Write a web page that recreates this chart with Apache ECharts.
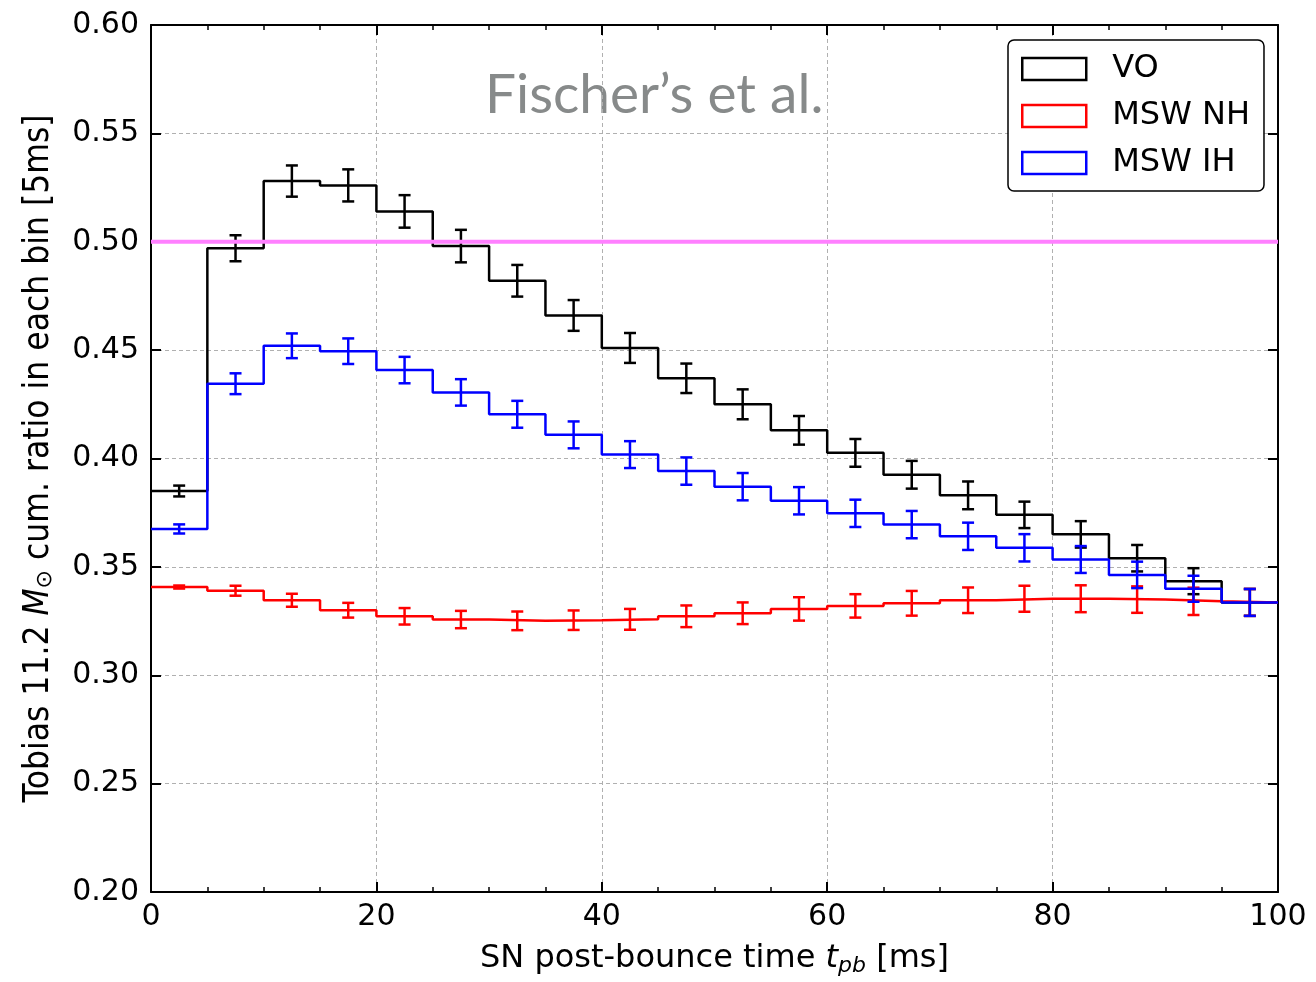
<!DOCTYPE html>
<html>
<head>
<meta charset="utf-8">
<script src="https://cdn.jsdelivr.net/npm/echarts@6/dist/echarts.min.js"></script>
<style>
html,body{margin:0;padding:0;background:#fff;}
#chart{width:1316px;height:982px;}
</style>
</head>
<body>
<div id="chart"></div>
<script>
// Bin edges (ms) and bin centres
const binEdges = [0,5,10,15,20,25,30,35,40,45,50,55,60,65,70,75,80,85,90,95,100];
const binCenters = [2.5,7.5,12.5,17.5,22.5,27.5,32.5,37.5,42.5,47.5,52.5,57.5,62.5,67.5,72.5,77.5,82.5,87.5,92.5,97.5];

// VO (black)
const voValues = [0.385,0.497,0.528,0.526,0.514,0.498,0.482,0.466,0.451,0.437,0.425,0.413,0.4026,0.3925,0.383,0.374,0.365,0.354,0.3434,0.3336];
const voErrors = [0.0025,0.006,0.0072,0.0074,0.0075,0.0075,0.0073,0.0071,0.0069,0.0068,0.0069,0.0066,0.0064,0.0064,0.0064,0.0061,0.0061,0.0061,0.006,0.0062];

// MSW NH (red)
const nhValues = [0.3407,0.339,0.3346,0.330,0.3272,0.3257,0.3251,0.3254,0.3258,0.3272,0.3286,0.3306,0.332,0.3332,0.3346,0.3353,0.3353,0.3349,0.3341,0.3336];
const nhErrors = [0.0007,0.0023,0.003,0.0034,0.0038,0.004,0.0043,0.0045,0.0048,0.005,0.005,0.0054,0.0054,0.0057,0.0059,0.006,0.0062,0.0061,0.0063,0.0062];

// MSW IH (blue)
const ihValues = [0.3675,0.4345,0.452,0.4495,0.4408,0.4305,0.4204,0.4109,0.4018,0.3942,0.387,0.3805,0.3747,0.3695,0.3641,0.3588,0.3534,0.3463,0.3399,0.3336];
const ihErrors = [0.0021,0.0048,0.0057,0.0059,0.0061,0.0061,0.0062,0.0062,0.0062,0.0063,0.0063,0.0063,0.0063,0.0063,0.0063,0.0063,0.0062,0.0061,0.006,0.0062];

const refLevel = 0.5;
const seriesNames = ['VO','MSW NH','MSW IH'];

const seriesDefs = [
  {name:seriesNames[0], values:voValues, errors:voErrors, color:'#000000'},
  {name:seriesNames[1], values:nhValues, errors:nhErrors, color:'#ff0000'},
  {name:seriesNames[2], values:ihValues, errors:ihErrors, color:'#0000ff'}
];

function stepData(values){
  const d = values.map((v,i)=>[binEdges[i], v]);
  d.push([binEdges[binEdges.length-1], values[values.length-1]]);
  return d;
}

function errRender(color){
  return function(params, api){
    const x = api.value(0), y = api.value(1), e = api.value(2);
    const top = api.coord([x, y+e]);
    const bot = api.coord([x, y-e]);
    const hw = 6;
    const style = {stroke: color, lineWidth: 2.5, fill: null};
    return {type:'group', children:[
      {type:'line', shape:{x1:top[0], y1:top[1], x2:bot[0], y2:bot[1]}, style:style},
      {type:'line', shape:{x1:top[0]-hw, y1:top[1], x2:top[0]+hw, y2:top[1]}, style:style},
      {type:'line', shape:{x1:bot[0]-hw, y1:bot[1], x2:bot[0]+hw, y2:bot[1]}, style:style}
    ]};
  };
}

const series = [];
seriesDefs.forEach((s, k)=>{
  series.push({
    name: s.name, type:'line', step:'end', xAxisIndex:0, yAxisIndex:0,
    data: stepData(s.values), showSymbol:false, symbol:'none',
    lineStyle:{color:s.color, width:2.5}, itemStyle:{color:s.color, borderColor:s.color},
    z: 3+k, animation:false
  });
  series.push({
    name: s.name+' err', type:'custom', xAxisIndex:0, yAxisIndex:0,
    renderItem: errRender(s.color),
    data: binCenters.map((c,i)=>[c, s.values[i], s.errors[i]]),
    z: 3+k, animation:false, silent:true
  });
});
series.push({
  name:'ref', type:'line', xAxisIndex:0, yAxisIndex:0,
  data:[[binEdges[0], refLevel],[binEdges[binEdges.length-1], refLevel]],
  showSymbol:false, symbol:'none', lineStyle:{color:'#ff80ff', width:4}, z:10, animation:false, silent:true
});

const tickFont = {fontFamily:'DejaVu Sans', fontSize:30, color:'#000'};

const chart = echarts.init(document.getElementById('chart'), null, {renderer:'canvas'});
chart.setOption({
  backgroundColor:'#ffffff',
  animation:false,
  grid:{left:151, right:38, top:25, bottom:87, containLabel:false},
  graphic:[{
    type:'text', left:485, top:68,
    style:{text:'Fischer\u2019s et al.', fontFamily:'Lato', fontSize:55, fill:'#878a8a', fontWeight:'normal'}
  }],
  legend:{
    show:true, orient:'vertical', left:1008, top:40,
    data: seriesDefs.map(s=>({name:s.name, icon:'rect',
      itemStyle:{color:'rgba(0,0,0,0)', borderColor:s.color, borderWidth:2.5}})),
    itemWidth:64, itemHeight:22, itemGap:15,
    padding:[13,14,12,13],
    backgroundColor:'#fff', borderColor:'#000', borderWidth:1.5, borderRadius:6,
    textStyle:{fontFamily:'DejaVu Sans', fontSize:32, lineHeight:32, color:'#000', padding:[0,0,0,21]}
  },
  xAxis:[{
    type:'value', min:0, max:100, interval:20, position:'bottom',
    name:'{n|SN post-bounce time }{i|t}{s|pb}{n| [ms]}', nameLocation:'middle', nameGap:49,
    nameTextStyle:{rich:{
      n:{fontFamily:'DejaVu Sans', fontSize:32, color:'#000'},
      i:{fontFamily:'DejaVu Sans', fontStyle:'italic', fontSize:32, color:'#000'},
      s:{fontFamily:'DejaVu Sans', fontStyle:'italic', fontSize:22, color:'#000', verticalAlign:'bottom', padding:[14,0,0,0]}
    }},
    axisLine:{show:true, onZero:false, lineStyle:{color:'#000', width:2}},
    axisTick:{show:true, inside:true, length:10, lineStyle:{color:'#000', width:2}},
    minorTick:{show:true, splitNumber:4, length:5, lineStyle:{color:'#000', width:1.5}},
    axisLabel:Object.assign({margin:10, formatter:v=>String(v)}, tickFont),
    splitLine:{show:true, lineStyle:{color:'#b0b0b0', type:[4,3], width:1}}
  },{
    type:'value', min:0, max:100, interval:20, position:'top',
    axisLine:{show:true, onZero:false, lineStyle:{color:'#000', width:2}},
    axisTick:{show:true, inside:true, length:10, lineStyle:{color:'#000', width:2}},
    minorTick:{show:true, splitNumber:4, length:5, lineStyle:{color:'#000', width:1.5}},
    axisLabel:{show:false}, splitLine:{show:false}
  }],
  yAxis:[{
    type:'value', min:0.2, max:0.6, interval:0.05, position:'left',
    name:'{n|Tobias 11.2 }{i|M}{s|\u2299}{n| cum. ratio in each bin [5ms]}',
    nameLocation:'middle', nameGap:95, nameRotate:90,
    nameTextStyle:{rich:{
      n:{fontFamily:'DejaVu Sans Condensed', fontSize:35, color:'#000'},
      i:{fontFamily:'DejaVu Sans Condensed', fontStyle:'italic', fontSize:35, color:'#000'},
      s:{fontFamily:'DejaVu Sans', fontSize:22, color:'#000', verticalAlign:'bottom', padding:[12,0,0,0]}
    }},
    axisLine:{show:true, onZero:false, lineStyle:{color:'#000', width:2}},
    axisTick:{show:true, inside:true, length:10, lineStyle:{color:'#000', width:2}},
    axisLabel:Object.assign({margin:12, formatter:v=>v.toFixed(2)}, tickFont),
    splitLine:{show:true, lineStyle:{color:'#b0b0b0', type:[4,3], width:1}}
  },{
    type:'value', min:0.2, max:0.6, interval:0.05, position:'right',
    axisLine:{show:true, onZero:false, lineStyle:{color:'#000', width:2}},
    axisTick:{show:true, inside:true, length:10, lineStyle:{color:'#000', width:2}},
    axisLabel:{show:false}, splitLine:{show:false}
  }],
  series: series
});
</script>
</body>
</html>
